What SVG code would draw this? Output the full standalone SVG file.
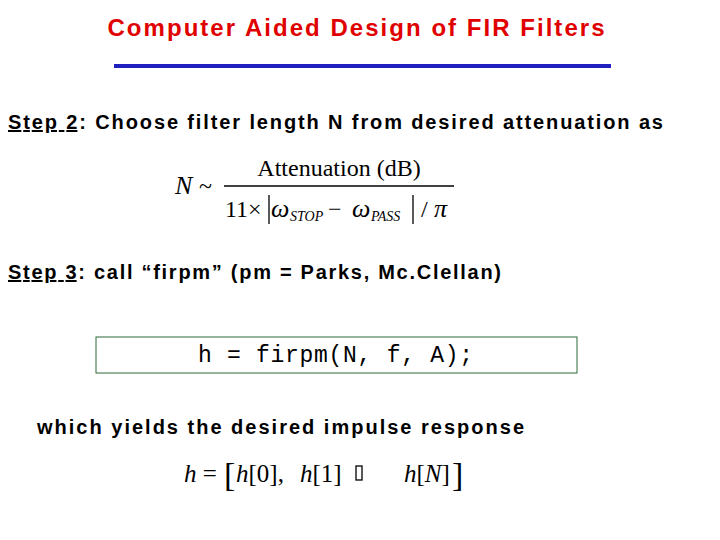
<svg xmlns="http://www.w3.org/2000/svg" width="720" height="540" viewBox="0 0 720 540">
<style>
.s{font-family:"Liberation Sans",Arial,sans-serif;font-size:20px;font-weight:bold;fill:#000}
.m{font-family:"Liberation Serif","Times New Roman",serif;fill:#000}
.i{font-style:italic}
</style>
<rect width="720" height="540" fill="#fff"/>
<g id="title">
<text x="356" y="36" text-anchor="middle" style="font-family:'Liberation Sans',Arial,sans-serif;font-size:24px;font-weight:bold;fill:#e00000" textLength="497">Computer Aided Design of FIR Filters</text>
<line x1="114" y1="66" x2="611" y2="66" stroke="#2020c0" stroke-width="4"/>
</g>
<g id="step2">
<text x="8" y="129" class="s" textLength="655"><tspan text-decoration="underline">Step 2</tspan>: Choose filter length N from desired attenuation as</text>
</g>
<g id="formula">
<text x="175" y="194" class="m i" font-size="26">N</text>
<text x="199" y="194" class="m" font-size="24">~</text>
<text x="339" y="176" class="m" font-size="24" text-anchor="middle">Attenuation (dB)</text>
<line x1="224" y1="186" x2="454" y2="186" stroke="#000" stroke-width="1.3"/>
<text x="225" y="217" class="m" font-size="24">11×</text>
<line x1="269" y1="195" x2="269" y2="224" stroke="#000" stroke-width="1.3"/>
<text x="271" y="217" class="m i" font-size="26">ω</text>
<text x="290" y="221" class="m i" font-size="14">STOP</text>
<text x="328" y="217" class="m" font-size="24">−</text>
<text x="352" y="217" class="m i" font-size="26">ω</text>
<text x="371" y="221" class="m i" font-size="14">PASS</text>
<line x1="413" y1="195" x2="413" y2="224" stroke="#000" stroke-width="1.3"/>
<text x="421" y="217" class="m" font-size="24">/</text>
<text x="434" y="217" class="m i" font-size="26">π</text>
</g>
<g id="step3">
<text x="8" y="279" class="s" textLength="493"><tspan text-decoration="underline">Step 3</tspan>: call “firpm” (pm = Parks, Mc.Clellan)</text>
</g>
<g id="code">
<rect x="96" y="337" width="481" height="36" fill="#fff" stroke="#2e6b3a" stroke-width="1"/>
<text x="198" y="362" style="font-family:'Liberation Mono','Courier New',monospace;font-size:23px" textLength="275">h = firpm(N, f, A);</text>
</g>
<g id="yields">
<text x="37" y="434" class="s" textLength="487">which yields the desired impulse response</text>
</g>
<g id="hvec">
<text x="184" y="482" class="m" font-size="25"><tspan class="i">h</tspan> =</text>
<text x="224" y="486" class="m" font-size="34">[</text>
<text x="236" y="482" class="m" font-size="25"><tspan class="i">h</tspan>[0],</text>
<text x="300" y="482" class="m" font-size="25"><tspan class="i">h</tspan>[1]</text>
<rect x="356" y="466" width="6" height="14" fill="none" stroke="#000" stroke-width="1.3"/>
<text x="404" y="482" class="m" font-size="25"><tspan class="i">h</tspan>[<tspan class="i">N</tspan>]</text>
<text x="452" y="486" class="m" font-size="34">]</text>
</g>
</svg>
